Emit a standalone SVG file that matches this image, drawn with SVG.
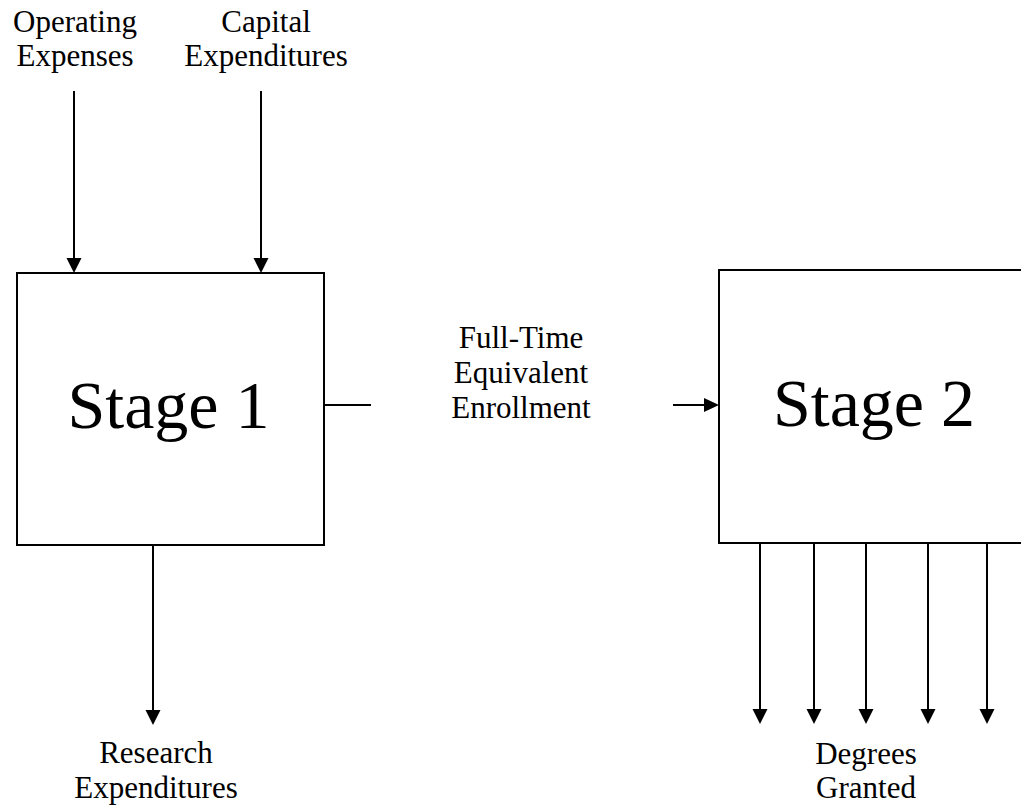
<svg xmlns="http://www.w3.org/2000/svg" width="1021" height="812" viewBox="0 0 1021 812">
<style>
text{font-family:"Liberation Serif","Times New Roman",serif;fill:#000;text-anchor:middle}
.lbl{font-size:31px}
.big{font-size:68px}
.box{fill:#fff;stroke:#000;stroke-width:2}
.ln{stroke:#000;stroke-width:2;fill:none}
.ah{fill:#000}
</style>
<rect width="1021" height="812" fill="#fff"/>
<g id="stage1">
<rect class="box" x="17" y="273" width="307" height="272"/>
<text class="big" x="168.5" y="428">Stage 1</text>
</g>
<g id="stage2">
<rect class="box" x="719" y="270" width="320" height="273"/>
<text class="big" x="874" y="426">Stage 2</text>
</g>
<g id="labels">
<text class="lbl" x="75" y="32">Operating</text>
<text class="lbl" x="75" y="66">Expenses</text>
<text class="lbl" x="266" y="32">Capital</text>
<text class="lbl" x="266" y="66">Expenditures</text>
<text class="lbl" x="521" y="348">Full-Time</text>
<text class="lbl" x="521" y="383">Equivalent</text>
<text class="lbl" x="521" y="418">Enrollment</text>
<text class="lbl" x="156" y="763">Research</text>
<text class="lbl" x="156" y="798">Expenditures</text>
<text class="lbl" x="866" y="764">Degrees</text>
<text class="lbl" x="866" y="798">Granted</text>
</g>
<g id="connectors">
<line class="ln" x1="74" y1="91" x2="74" y2="259"/>
<polygon class="ah" points="66.5,258 81.5,258 74,273"/>
<line class="ln" x1="261" y1="91" x2="261" y2="259"/>
<polygon class="ah" points="253.5,258 268.5,258 261,273"/>
<line class="ln" x1="153" y1="545" x2="153" y2="711"/>
<polygon class="ah" points="145.5,710 160.5,710 153,725"/>
<line class="ln" x1="324" y1="405" x2="371" y2="405"/>
<line class="ln" x1="673" y1="405" x2="705" y2="405"/>
<polygon class="ah" points="704,398 704,412 719,405"/>
<line class="ln" x1="760" y1="543" x2="760" y2="710"/>
<polygon class="ah" points="752.5,709 767.5,709 760,724"/>
<line class="ln" x1="814" y1="543" x2="814" y2="710"/>
<polygon class="ah" points="806.5,709 821.5,709 814,724"/>
<line class="ln" x1="866" y1="543" x2="866" y2="710"/>
<polygon class="ah" points="858.5,709 873.5,709 866,724"/>
<line class="ln" x1="928" y1="543" x2="928" y2="710"/>
<polygon class="ah" points="920.5,709 935.5,709 928,724"/>
<line class="ln" x1="987" y1="543" x2="987" y2="710"/>
<polygon class="ah" points="979.5,709 994.5,709 987,724"/>
</g>
</svg>
